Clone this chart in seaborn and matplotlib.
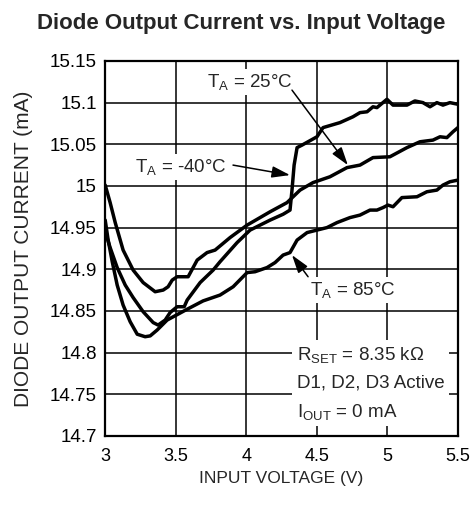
import numpy as np
import pandas as pd
import matplotlib
matplotlib.use('Agg')
import matplotlib.pyplot as plt
import seaborn as sns

# --- data (x = input voltage V, y = diode current mA) ---
x_25 = [3.000, 3.035, 3.071, 3.127, 3.198, 3.269, 3.354, 3.411, 3.446, 3.475,
        3.510, 3.588, 3.652, 3.722, 3.779, 3.885, 4.006, 4.169, 4.289, 4.381,
        4.473, 4.593, 4.714, 4.806, 4.898, 5.018, 5.139, 5.231, 5.323, 5.373,
        5.422, 5.465, 5.500]
y_25 = [15.001, 14.980, 14.956, 14.923, 14.899, 14.884, 14.873, 14.875, 14.879, 14.887,
        14.891, 14.891, 14.911, 14.920, 14.923, 14.938, 14.953, 14.969, 14.980, 14.995,
        15.004, 15.011, 15.022, 15.025, 15.034, 15.035, 15.046, 15.053, 15.055, 15.059,
        15.058, 15.065, 15.070]

x_m40 = [3.000, 3.035, 3.085, 3.142, 3.198, 3.269, 3.340, 3.375, 3.425, 3.460,
         3.510, 3.560, 3.581, 3.673, 3.765, 3.814, 3.935, 4.027, 4.169, 4.261,
         4.310, 4.324, 4.339, 4.360, 4.395, 4.501, 4.544, 4.664, 4.756, 4.806,
         4.856, 4.898, 4.926, 4.997, 5.040, 5.139, 5.195, 5.252, 5.302, 5.351,
         5.394, 5.443, 5.500]
y_m40 = [14.945, 14.926, 14.902, 14.881, 14.866, 14.849, 14.836, 14.833, 14.839, 14.848,
         14.855, 14.855, 14.863, 14.884, 14.899, 14.909, 14.932, 14.947, 14.959, 14.966,
         14.971, 14.995, 15.025, 15.046, 15.049, 15.059, 15.070, 15.076, 15.083, 15.088,
         15.089, 15.095, 15.094, 15.104, 15.097, 15.097, 15.102, 15.100, 15.095, 15.100,
         15.097, 15.100, 15.098]

x_85 = [3.000, 3.021, 3.050, 3.085, 3.127, 3.177, 3.227, 3.283, 3.319, 3.368,
        3.439, 3.581, 3.694, 3.814, 3.907, 4.006, 4.062, 4.147, 4.204, 4.261,
        4.310, 4.360, 4.431, 4.501, 4.572, 4.643, 4.735, 4.806, 4.877, 4.926,
        4.969, 5.004, 5.040, 5.103, 5.210, 5.280, 5.351, 5.394, 5.443, 5.500]
y_85 = [14.959, 14.935, 14.909, 14.881, 14.857, 14.837, 14.822, 14.819, 14.820, 14.827,
        14.839, 14.852, 14.862, 14.869, 14.879, 14.896, 14.897, 14.902, 14.908, 14.917,
        14.920, 14.935, 14.944, 14.947, 14.950, 14.956, 14.962, 14.965, 14.971, 14.971,
        14.974, 14.977, 14.975, 14.986, 14.987, 14.993, 14.995, 15.001, 15.005, 15.007]

x_ticks = [3, 3.5, 4, 4.5, 5, 5.5]
x_tick_labels = ['3', '3.5', '4', '4.5', '5', '5.5']
y_ticks = [14.7, 14.75, 14.8, 14.85, 14.9, 14.95, 15.0, 15.05, 15.1, 15.15]
y_tick_labels = ['14.7', '14.75', '14.8', '14.85', '14.9', '14.95', '15', '15.05', '15.1', '15.15']

sns.set_style('white')
plt.rcParams['font.family'] = ['Liberation Sans', 'DejaVu Sans']
plt.rcParams['mathtext.fontset'] = 'custom'
plt.rcParams['mathtext.rm'] = 'Liberation Sans'
plt.rcParams['mathtext.it'] = 'Liberation Sans:italic'

fig, ax = plt.subplots(figsize=(4.76, 5.08), dpi=100)
fig.subplots_adjust(left=0.221, right=0.962, top=0.880, bottom=0.142)

for xs, ys in [(x_25, y_25), (x_m40, y_m40), (x_85, y_85)]:
    df = pd.DataFrame({'v': xs, 'i': ys})
    sns.lineplot(data=df, x='v', y='i', sort=False, estimator=None,
                 color='black', lw=2.5, ax=ax, zorder=3)

ax.set_xlim(3, 5.5)
ax.set_ylim(14.7, 15.15)
ax.set_xticks(x_ticks)
ax.set_xticklabels(x_tick_labels)
ax.set_yticks(y_ticks)
ax.set_yticklabels(y_tick_labels)
ax.tick_params(length=0, colors='black')
ax.tick_params(axis='x', pad=9, labelsize=13)
ax.tick_params(axis='y', pad=6, labelsize=13.5)
ax.grid(True, color='black', lw=1.1)
ax.set_axisbelow(True)
for s in ax.spines.values():
    s.set_color('black')
    s.set_linewidth(1.6)

ax.set_xlabel('INPUT VOLTAGE (V)', fontsize=12.5, labelpad=4)
ax.set_ylabel('DIODE OUTPUT CURRENT (mA)', fontsize=15, labelpad=12)
fig.text(0.506, 0.942, 'Diode Output Current vs. Input Voltage',
         ha='center', va='baseline', fontsize=16, fontweight='bold')

# annotations
bg = dict(boxstyle='square,pad=0.15', fc='white', ec='none')
ax.text(3.722, 15.119, r'T$_\mathrm{A}$ = 25°C', fontsize=13.5, ha='left', va='baseline', bbox=bg, zorder=2.5)
ax.text(3.212, 15.017, r'T$_\mathrm{A}$ = -40°C', fontsize=13.5, ha='left', va='baseline', bbox=bg, zorder=2.5)
ax.text(4.452, 14.869, r'T$_\mathrm{A}$ = 85°C', fontsize=13.5, ha='left', va='baseline', bbox=bg, zorder=2.5)

arrow = dict(arrowstyle='-|>,head_length=1.1,head_width=0.35', color='black', lw=1.1,
             shrinkA=0, shrinkB=0, mutation_scale=10)
ax.annotate('', xy=(4.72, 15.025), xytext=(4.324, 15.115), arrowprops=arrow, zorder=4)
ax.annotate('', xy=(4.31, 15.013), xytext=(3.906, 15.025), arrowprops=arrow, zorder=4)
ax.annotate('', xy=(4.324, 14.917), xytext=(4.438, 14.891), arrowprops=arrow, zorder=4)

ax.text(4.36, 14.809, 'R$_\\mathrm{SET}$ = 8.35 kΩ\nD1, D2, D3 Active\nI$_\\mathrm{OUT}$ = 0 mA',
        fontsize=13.5, ha='left', va='top', linespacing=1.7,
        bbox=dict(boxstyle='square,pad=0.25', fc='white', ec='none'), zorder=2.5)

fig.savefig('out.png', dpi=100)
